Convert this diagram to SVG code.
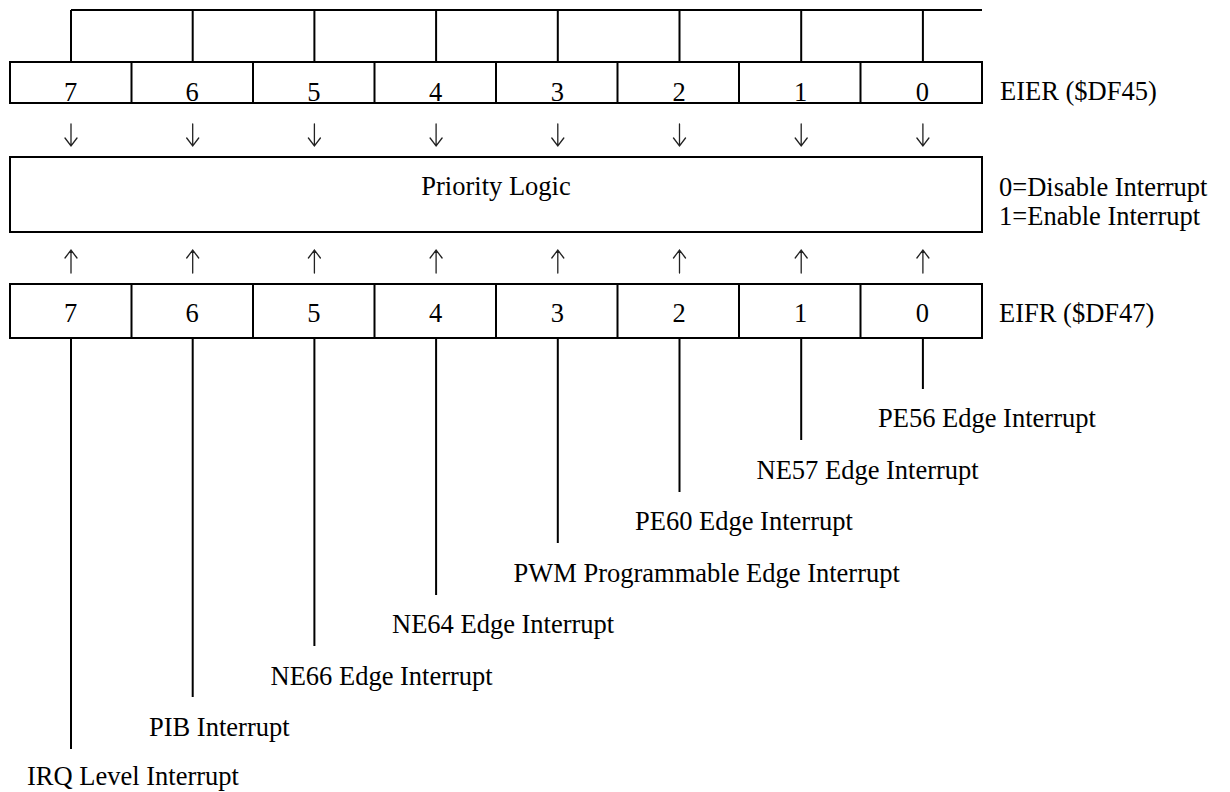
<svg xmlns="http://www.w3.org/2000/svg" width="1230" height="792" viewBox="0 0 1230 792" font-family="'Liberation Serif', serif">
<style>
  .ln { stroke: #000; stroke-width: 2; fill: none; }
  .box { stroke: #000; stroke-width: 2; fill: #fff; }
  .ar { stroke: #222; stroke-width: 1.3; fill: none; stroke-linecap: round; }
  text { font-family: 'Liberation Serif', 'Times New Roman', serif; font-size: 26.5px; fill: #000; }
  .c { text-anchor: middle; }
</style>
<rect width="1230" height="792" fill="#fff"/>

<g id="eier-top-row">
  <path class="ln" d="M71 10 H982 M71 10 V62 M192.7 10 V62 M314.4 10 V62 M436.1 10 V62 M557.8 10 V62 M679.5 10 V62 M801.2 10 V62 M922.9 10 V62"/>
</g>

<g id="eier-register">
  <rect class="box" x="10" y="62" width="972" height="41"/>
  <path class="ln" d="M131.5 62 V103 M253 62 V103 M374.5 62 V103 M496 62 V103 M617.5 62 V103 M739 62 V103 M860.5 62 V103"/>
  <text class="c" x="70.5" y="101">7</text>
  <text class="c" x="192.2" y="101">6</text>
  <text class="c" x="313.9" y="101">5</text>
  <text class="c" x="435.6" y="101">4</text>
  <text class="c" x="557.3" y="101">3</text>
  <text class="c" x="679" y="101">2</text>
  <text class="c" x="800.7" y="101">1</text>
  <text class="c" x="922.4" y="101">0</text>
  <text x="1000" y="100">EIER ($DF45)</text>
</g>

<g id="priority-logic">
  <rect class="box" x="10" y="157" width="972" height="75"/>
  <text class="c" x="496" y="195">Priority Logic</text>
  <text x="999" y="196">0=Disable Interrupt</text>
  <text x="999" y="225">1=Enable Interrupt</text>
</g>

<g id="eifr-register">
  <rect class="box" x="10" y="284" width="972" height="54"/>
  <path class="ln" d="M131.5 284 V338 M253 284 V338 M374.5 284 V338 M496 284 V338 M617.5 284 V338 M739 284 V338 M860.5 284 V338"/>
  <text class="c" x="70.5" y="322">7</text>
  <text class="c" x="192.2" y="322">6</text>
  <text class="c" x="313.9" y="322">5</text>
  <text class="c" x="435.6" y="322">4</text>
  <text class="c" x="557.3" y="322">3</text>
  <text class="c" x="679" y="322">2</text>
  <text class="c" x="800.7" y="322">1</text>
  <text class="c" x="922.4" y="322">0</text>
  <text x="999" y="322">EIFR ($DF47)</text>
</g>

<g id="connectors">
  <path class="ar" d="M71 124 V146 M65 138 L71 146 L77 138
    M192.7 124 V146 M186.7 138 L192.7 146 L198.7 138
    M314.4 124 V146 M308.4 138 L314.4 146 L320.4 138
    M436.1 124 V146 M430.1 138 L436.1 146 L442.1 138
    M557.8 124 V146 M551.8 138 L557.8 146 L563.8 138
    M679.5 124 V146 M673.5 138 L679.5 146 L685.5 138
    M801.2 124 V146 M795.2 138 L801.2 146 L807.2 138
    M922.9 124 V146 M916.9 138 L922.9 146 L928.9 138"/>
  <path class="ar" d="M71 250 V273 M65 258 L71 250 L77 258
    M192.7 250 V273 M186.7 258 L192.7 250 L198.7 258
    M314.4 250 V273 M308.4 258 L314.4 250 L320.4 258
    M436.1 250 V273 M430.1 258 L436.1 250 L442.1 258
    M557.8 250 V273 M551.8 258 L557.8 250 L563.8 258
    M679.5 250 V273 M673.5 258 L679.5 250 L685.5 258
    M801.2 250 V273 M795.2 258 L801.2 250 L807.2 258
    M922.9 250 V273 M916.9 258 L922.9 250 L928.9 258"/>
  <path class="ln" d="M71 338 V749 M192.7 338 V697 M314.4 338 V646 M436.1 338 V595 M557.8 338 V543 M679.5 338 V492 M801.2 338 V440 M922.9 338 V389"/>
</g>

<g id="label-bit0"><text x="878" y="427">PE56 Edge Interrupt</text></g>
<g id="label-bit1"><text x="756.5" y="478.5">NE57 Edge Interrupt</text></g>
<g id="label-bit2"><text x="635" y="530">PE60 Edge Interrupt</text></g>
<g id="label-bit3"><text x="513.5" y="581.5">PWM Programmable Edge Interrupt</text></g>
<g id="label-bit4"><text x="392" y="633">NE64 Edge Interrupt</text></g>
<g id="label-bit5"><text x="270.5" y="684.5">NE66 Edge Interrupt</text></g>
<g id="label-bit6"><text x="149" y="736">PIB Interrupt</text></g>
<g id="label-bit7"><text x="27" y="785">IRQ Level Interrupt</text></g>
</svg>
